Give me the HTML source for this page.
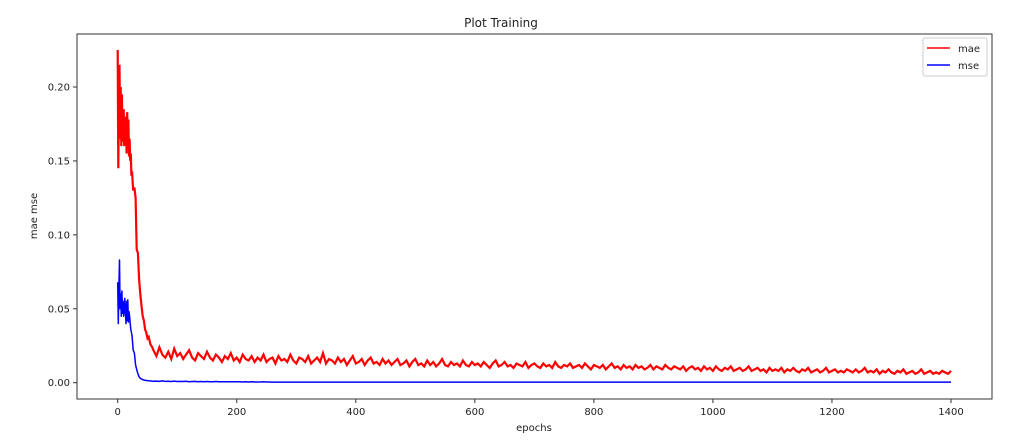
<!DOCTYPE html>
<html><head><meta charset="utf-8"><style>
html,body{margin:0;padding:0;background:#fff;}
svg{display:block;font-family:"DejaVu Sans","Liberation Sans",sans-serif;}
</style></head><body>
<svg id="chart" width="1032" height="448" viewBox="0 0 1032 448">
<rect x="0" y="0" width="1032" height="448" fill="#fff"/>
<text x="501" y="27" font-size="12" text-anchor="middle" fill="#222">Plot Training</text>
<g id="plot"></g>
<rect x="77" y="34" width="915" height="365" fill="none" stroke="#333" stroke-width="1"/>
<g id="xticks"></g>
<g id="yticks"></g>
<text x="534" y="431" font-size="10" text-anchor="middle" fill="#222">epochs</text>
<text x="0" y="0" font-size="10" text-anchor="middle" fill="#222" transform="translate(37,216) rotate(-90)">mae mse</text>
<g>
<rect x="923" y="38" width="64" height="38" fill="#fff" stroke="#ccc" rx="2"/>
<line x1="927" y1="48" x2="950" y2="48" stroke="#f00" stroke-width="1.5"/>
<text x="958" y="52" font-size="10" fill="#222">mae</text>
<line x1="927" y1="65" x2="950" y2="65" stroke="#00f" stroke-width="1.5"/>
<text x="958" y="69" font-size="10" fill="#222">mse</text>
</g>
</svg>
<script>
const earlyEpochs=[0,1,2,3,4,5,6,7,8,9,10,11,12,13,14,15,16,17,18,19,20,21,22,23,24,26,28,30,32,34,36,38,40,42,44,46,48,50,52,55,58];
const earlyMae=[0.225,0.145,0.19,0.215,0.165,0.2,0.16,0.195,0.17,0.163,0.185,0.16,0.175,0.165,0.18,0.155,0.183,0.16,0.178,0.153,0.165,0.15,0.155,0.14,0.143,0.13,0.132,0.125,0.09,0.088,0.07,0.06,0.052,0.045,0.042,0.036,0.034,0.03,0.031,0.026,0.024];
const earlyMse=[0.068,0.04,0.065,0.083,0.05,0.06,0.045,0.062,0.047,0.055,0.045,0.05,0.057,0.048,0.04,0.055,0.042,0.056,0.041,0.048,0.045,0.04,0.036,0.034,0.032,0.022,0.02,0.012,0.009,0.006,0.004,0.003,0.0025,0.002,0.0018,0.0016,0.0015,0.0014,0.0013,0.0012,0.0011];
const lateStart=60, lateStep=5;
const lateMae=[0.022,0.018,0.024,0.019,0.017,0.021,0.016,0.023,0.018,0.02,0.016,0.019,0.022,0.017,0.015,0.02,0.018,0.016,0.021,0.017,
0.015,0.019,0.017,0.014,0.018,0.016,0.02,0.015,0.017,0.014,0.019,0.016,0.015,0.018,0.014,0.017,0.015,0.019,0.014,0.016,
0.017,0.013,0.018,0.015,0.016,0.014,0.019,0.015,0.013,0.017,0.016,0.014,0.018,0.013,0.015,0.017,0.014,0.02,0.013,0.016,
0.015,0.013,0.017,0.014,0.016,0.012,0.015,0.018,0.013,0.014,0.016,0.012,0.015,0.017,0.013,0.014,0.012,0.016,0.013,0.015,
0.012,0.014,0.016,0.012,0.013,0.015,0.011,0.014,0.016,0.012,0.013,0.011,0.015,0.012,0.014,0.011,0.013,0.016,0.012,0.011,
0.014,0.012,0.013,0.011,0.015,0.012,0.011,0.014,0.012,0.013,0.011,0.014,0.012,0.010,0.013,0.015,0.011,0.012,0.014,0.011,
0.012,0.010,0.013,0.012,0.011,0.014,0.010,0.012,0.013,0.011,0.010,0.013,0.011,0.012,0.010,0.014,0.011,0.010,0.012,0.011,
0.013,0.010,0.011,0.012,0.010,0.013,0.011,0.009,0.012,0.011,0.010,0.012,0.009,0.011,0.013,0.010,0.011,0.009,0.012,0.010,
0.011,0.009,0.012,0.010,0.011,0.009,0.010,0.012,0.009,0.011,0.010,0.009,0.012,0.010,0.009,0.011,0.010,0.009,0.011,0.008,
0.010,0.011,0.009,0.010,0.008,0.011,0.009,0.010,0.008,0.011,0.009,0.008,0.010,0.009,0.011,0.008,0.009,0.010,0.008,0.009,
0.011,0.008,0.009,0.010,0.008,0.009,0.007,0.010,0.008,0.009,0.008,0.010,0.007,0.009,0.008,0.010,0.008,0.007,0.009,0.008,
0.010,0.007,0.008,0.009,0.007,0.008,0.010,0.007,0.008,0.009,0.007,0.008,0.007,0.009,0.008,0.007,0.009,0.007,0.008,0.010,
0.007,0.008,0.007,0.009,0.006,0.008,0.007,0.009,0.007,0.006,0.008,0.007,0.009,0.006,0.007,0.008,0.006,0.007,0.009,0.006,
0.007,0.008,0.006,0.007,0.006,0.008,0.007,0.006,0.008,0.006,0.007];
const lateMse=[0.0010,0.0011,0.0009,0.0012,0.0009,0.0010,0.0008,0.0011,0.0008,0.0009,0.0008,0.0010,0.0007,0.0008,0.0009,0.0007,0.0008,0.0007,0.0008,0.0006,
0.0007,0.0008,0.0006,0.0007,0.0006,0.0007,0.0006,0.0007,0.0006,0.0006,0.0005,0.0006,0.0005,0.0006,0.0005,0.0005,0.0005,0.0006,0.0005,0.0005];
const xTicks=[0,200,400,600,800,1000,1200,1400];
const yTicks=[0,0.05,0.10,0.15,0.20];
const yTickLabels=["0.00","0.05","0.10","0.15","0.20"];

const X0=117.7, XS=(951-117.7)/1400, Y0=382.7, YS=(382.7-87)/0.20;
function sx(e){return X0+e*XS;}
function sy(v){return Y0-v*YS;}
const NS="http://www.w3.org/2000/svg";
function mk(t,a,p){const el=document.createElementNS(NS,t);for(const k in a)el.setAttribute(k,a[k]);p.appendChild(el);return el;}

function series(early,late,floor){
  const pts=[];
  earlyEpochs.forEach((e,i)=>pts.push([e,early[i]]));
  const n=Math.round((1400-lateStart)/lateStep)+1;
  for(let i=0;i<n;i++){const v=i<late.length?late[i]:(floor!==undefined?floor:late[late.length-1]);pts.push([lateStart+i*lateStep,v]);}
  return pts.map(p=>sx(p[0]).toFixed(1)+","+sy(p[1]).toFixed(1)).join(" ");
}
const plot=document.getElementById('plot');
const lm=mk('polyline',{points:series(earlyMae,lateMae),fill:'none',stroke:'#f00','stroke-width':2.2,'stroke-linejoin':'miter'},plot);


const ls=mk('polyline',{points:series(earlyMse,lateMse,0.0004),fill:'none',stroke:'#00f','stroke-width':1.5,'stroke-linejoin':'round'},plot);



const xg=document.getElementById('xticks');
xTicks.forEach(t=>{
  const l=mk('line',{x1:sx(t),x2:sx(t),y1:399,y2:403,stroke:'#333'},xg);
  
  
  const tx=mk('text',{x:sx(t),y:415,'font-size':10,'text-anchor':'middle',fill:'#222'},xg);
  tx.textContent=t;
  
  
});
const yg=document.getElementById('yticks');
yTicks.forEach((t,i)=>{
  const l=mk('line',{x1:73,x2:77,y1:sy(t),y2:sy(t),stroke:'#333'},yg);
  
  
  const tx=mk('text',{x:70,y:sy(t)+3.5,'font-size':10,'text-anchor':'end',fill:'#222'},yg);
  tx.textContent=yTickLabels[i];
  
  
});
</script>
</body></html>
